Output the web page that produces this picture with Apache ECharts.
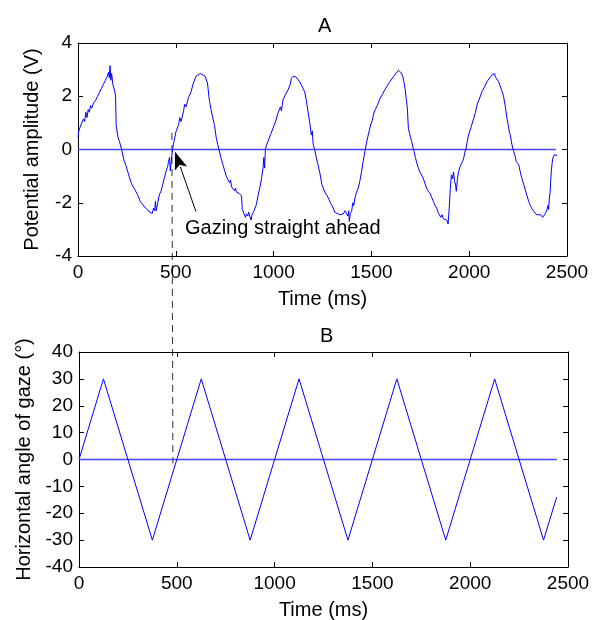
<!DOCTYPE html>
<html>
<head>
<meta charset="utf-8">
<script src="https://cdn.jsdelivr.net/npm/echarts@6/dist/echarts.min.js"></script>
<style>
html,body{margin:0;padding:0;background:#fff;}
#main{width:597px;height:620px;}
</style>
</head>
<body>
<div id="main"></div>
<script>
// ---- Panel A: potential amplitude (V) vs time (ms)
var timeA = [0,4,10,16,22,28,34,40,46,52,58,64,70,80,90,100,110,120,130,140,150,156,160,164,168,172,178,184,188,192,195,205,212,223,235,245,255,265,275,290,305,318,331,345,356,365,373,380,386,392,396,400,408,416,425,433,442,450,458,463,468,472,476,484,492,501,515,520,527,540,545,552,565,578,590,603,613,625,639,650,656,662,665,669,673,680,690,698,707,714,721,730,741,750,758,767,775,780,785,792,800,805,810,818,824,830,836,840,850,856,861,868,872,878,885,890,895,900,905,912,920,929,938,946,950,954,958,963,971,984,997,1010,1022,1035,1040,1048,1060,1074,1085,1091,1100,1108,1115,1125,1133,1142,1150,1159,1167,1176,1185,1193,1198,1202,1210,1218,1227,1237,1247,1254,1262,1270,1280,1290,1298,1305,1312,1318,1325,1331,1340,1348,1356,1365,1374,1380,1384,1387,1392,1399,1405,1410,1416,1424,1433,1442,1450,1458,1467,1475,1484,1497,1505,1510,1520,1530,1544,1555,1565,1578,1590,1600,1612,1620,1625,1630,1638,1645,1650,1655,1660,1666,1672,1678,1684,1689,1695,1700,1706,1712,1718,1725,1732,1740,1748,1755,1765,1775,1782,1791,1800,1808,1817,1825,1834,1840,1848,1855,1861,1868,1874,1878,1885,1892,1895,1898,1903,1909,1915,1920,1925,1930,1934,1940,1946,1953,1960,1966,1972,1978,1984,1990,1997,2010,2023,2032,2040,2052,2065,2078,2091,2100,2108,2117,2125,2130,2133,2140,2150,2160,2170,2176,2185,2193,2200,2205,2210,2218,2227,2235,2240,2245,2253,2260,2268,2279,2290,2304,2315,2330,2340,2345,2355,2365,2375,2381,2390,2398,2403,2406,2410,2414,2418,2420,2424,2428,2435,2440,2445,2449];
var ampA = [0.45,0.7,0.65,0.95,0.9,1.15,1.05,1.4,1.2,1.5,1.4,1.65,1.55,1.75,1.85,2.0,2.15,2.3,2.45,2.6,2.75,2.9,2.7,3.15,2.6,2.85,2.45,2.5,2.2,2.0,0.9,0.45,0.3,0,-0.4,-0.6,-0.85,-1.1,-1.3,-1.5,-1.7,-1.95,-2.07,-2.2,-2.26,-2.35,-2.32,-2.4,-2.2,-2.3,-1.95,-2.3,-2.0,-1.7,-1.55,-1.32,-1.05,-0.82,-0.65,-0.45,-0.3,-0.8,-0.5,0.05,0.35,0.67,0.95,1.2,1.05,1.45,1.7,1.6,1.95,2.17,2.5,2.75,2.77,2.85,2.8,2.75,2.61,2.5,2.3,2.0,1.8,1.5,1.17,0.9,0.43,0.2,0,-0.3,-0.57,-0.8,-1.0,-1.07,-1.25,-1.15,-1.4,-1.38,-1.55,-1.45,-1.6,-1.57,-1.65,-1.7,-1.75,-2.25,-2.3,-2.55,-2.42,-2.5,-2.35,-2.5,-2.65,-2.45,-2.45,-2.3,-2.35,-2.07,-1.75,-1.45,-1.1,-0.7,-0.3,-0.7,0,0.15,0.3,0.55,0.8,1.05,1.36,1.6,1.45,1.86,2.05,2.24,2.45,2.67,2.75,2.82,2.72,2.67,2.55,2.42,2.3,2.17,1.85,1.42,1.0,0.55,0.7,0.2,0,-0.3,-0.57,-0.9,-1.32,-1.45,-1.6,-1.7,-1.82,-2.0,-2.1,-2.2,-2.35,-2.3,-2.4,-2.45,-2.45,-2.42,-2.42,-2.3,-2.26,-2.5,-2.3,-2.7,-2.4,-2.32,-2.0,-2.1,-1.82,-1.6,-1.45,-1.15,-0.82,-0.45,-0.07,0.25,0.55,0.95,1.1,1.3,1.5,1.65,1.92,2.05,2.2,2.36,2.5,2.55,2.73,2.8,2.85,2.9,2.98,3.0,2.9,2.92,2.75,2.55,2.3,1.9,1.55,0.8,0.6,0.45,0.3,0.1,-0.07,-0.3,-0.5,-0.7,-0.85,-0.9,-1.07,-1.3,-1.45,-1.57,-1.65,-1.8,-1.95,-2.1,-2.2,-2.35,-2.4,-2.55,-2.45,-2.6,-2.55,-2.57,-2.65,-2.8,-2.5,-2.2,-1.5,-0.95,-1.1,-0.85,-1.2,-1.3,-1.57,-1.1,-0.82,-0.65,-0.7,-0.45,-0.32,-0.1,0.05,0.3,0.55,0.85,1.17,1.4,1.67,1.9,2.17,2.35,2.55,2.6,2.72,2.8,2.75,2.85,2.73,2.7,2.55,2.35,2.15,1.98,1.6,1.17,0.9,0.65,0.55,0.2,-0.07,-0.25,-0.45,-0.4,-0.57,-0.8,-1.05,-1.32,-1.6,-1.95,-2.15,-2.32,-2.35,-2.45,-2.5,-2.45,-2.55,-2.5,-2.4,-2.26,-2.1,-2.25,-1.82,-1.6,-1.0,-0.82,-0.5,-0.32,-0.2,-0.17,-0.26,-0.22];

// ---- Panel B: horizontal angle of gaze (deg) vs time (ms)
var timeB = [0,125,375,625,875,1125,1375,1625,1875,2125,2375,2442];
var angleB = [0,30,-30,30,-30,30,-30,30,-30,30,-30,-14];

// zero reference lines (start, end time)
var zeroT = [0, 2443];
var zeroV = [0, 0];

// axis ticks
var xTicks = {min: 0, max: 2500, interval: 500};
var yTicksA = {min: -4, max: 4, interval: 2};
var yTicksB = {min: -40, max: 40, interval: 10};

// annotation (data coordinates)
var annotText = 'Gazing straight ahead';
var arrowTip = [496, -0.08];
var arrowTail = [603, -2.33];
var textPos = [547, -2.98];
var markerTime = 480;
var markerTopV = 0.62;     // in panel A units
var markerBottomV = -1.5;  // in panel B units

function pairs(xs, ys){ return xs.map(function(x,i){ return [x, ys[i]]; }); }

var FONT = '"Liberation Sans", Arial, sans-serif';
var BLUE = '#0000ff';
var ZERO_BLUE = '#4545ff';
function plain(v){ return String(v); }

function xAx(grid, pos, name){
  var a = {
    gridIndex: grid, type: 'value', position: pos,
    min: xTicks.min, max: xTicks.max, interval: xTicks.interval,
    axisLine: {show: true, onZero: false, lineStyle: {color: '#000', width: 1}},
    axisTick: {show: true, inside: true, length: 5},
    axisLabel: {show: pos === 'bottom', color: '#000', fontSize: 19, fontFamily: FONT, margin: 7, formatter: plain},
    splitLine: {show: false}
  };
  if (name) {
    a.name = name; a.nameLocation = 'middle'; a.nameGap = 33;
    a.nameTextStyle = {color: '#000', fontSize: 20, fontFamily: FONT};
  }
  return a;
}
function yAx(grid, pos, t, name, gap){
  var a = {
    gridIndex: grid, type: 'value', position: pos,
    min: t.min, max: t.max, interval: t.interval,
    axisLine: {show: true, onZero: false, lineStyle: {color: '#000', width: 1}},
    axisTick: {show: true, inside: true, length: 5},
    axisLabel: {show: pos === 'left', color: '#000', fontSize: 19, fontFamily: FONT, margin: 6, formatter: plain},
    splitLine: {show: false}
  };
  if (name) {
    a.name = name; a.nameLocation = 'middle'; a.nameGap = gap;
    a.nameTextStyle = {color: '#000', fontSize: 20, fontFamily: FONT};
  }
  return a;
}

var chart = echarts.init(document.getElementById('main'));
chart.setOption({
  animation: false,
  backgroundColor: '#fff',
  title: [
    {text: 'A', left: 313, top: 11, textStyle: {color: '#000', fontSize: 20, fontWeight: 'normal', fontFamily: FONT}},
    {text: 'B', left: 315, top: 321, textStyle: {color: '#000', fontSize: 20, fontWeight: 'normal', fontFamily: FONT}}
  ],
  grid: [
    {left: 78, top: 43, width: 489, height: 213, outerBoundsMode: 'none'},
    {left: 79, top: 352, width: 489, height: 215, outerBoundsMode: 'none'}
  ],
  xAxis: [xAx(0, 'bottom', 'Time (ms)'), xAx(0, 'top'), xAx(1, 'bottom', 'Time (ms)'), xAx(1, 'top')],
  yAxis: [yAx(0, 'left', yTicksA, 'Potential amplitude (V)', 36), yAx(0, 'right', yTicksA),
          yAx(1, 'left', yTicksB, 'Horizontal angle of gaze (°)', 45), yAx(1, 'right', yTicksB)],
  series: [
    {type: 'line', xAxisIndex: 0, yAxisIndex: 0, data: pairs(zeroT, zeroV), symbol: 'none',
     lineStyle: {color: ZERO_BLUE, width: 1.6}},
    {type: 'line', xAxisIndex: 0, yAxisIndex: 0, data: pairs(timeA, ampA), symbol: 'none',
     lineStyle: {color: BLUE, width: 1}},
    {type: 'line', xAxisIndex: 2, yAxisIndex: 2, data: pairs(zeroT, zeroV), symbol: 'none',
     lineStyle: {color: ZERO_BLUE, width: 1.6}},
    {type: 'line', xAxisIndex: 2, yAxisIndex: 2, data: pairs(timeB, angleB), symbol: 'none',
     lineStyle: {color: BLUE, width: 1}}
  ]
});

// annotations positioned through the axes' own scales
var tip = chart.convertToPixel({gridIndex: 0}, arrowTip);
var tail = chart.convertToPixel({gridIndex: 0}, arrowTail);
var tpos = chart.convertToPixel({gridIndex: 0}, textPos);
var mTop = chart.convertToPixel({gridIndex: 0}, [markerTime, markerTopV]);
var mBot = chart.convertToPixel({gridIndex: 1}, [markerTime, markerBottomV]);

var dx = tail[0] - tip[0], dy = tail[1] - tip[1];
var L = Math.sqrt(dx*dx + dy*dy); var ux = dx / L, uy = dy / L;
var headLen = 18, headHalf = 6.5;
var bx = tip[0] + ux * headLen, by = tip[1] + uy * headLen;
var px = -uy, py = ux;

chart.setOption({
  graphic: [
    {type: 'line', shape: {x1: mTop[0], y1: mTop[1], x2: mBot[0], y2: mBot[1]},
     style: {stroke: '#333', lineWidth: 1, lineDash: [7, 5]}, silent: true},
    {type: 'line', shape: {x1: bx - ux*2, y1: by - uy*2, x2: tail[0], y2: tail[1]},
     style: {stroke: '#000', lineWidth: 1}, silent: true},
    {type: 'polygon', shape: {points: [[tip[0], tip[1]], [bx + px*headHalf, by + py*headHalf], [bx - ux*4, by - uy*4], [bx - px*headHalf, by - py*headHalf]]},
     style: {fill: '#000'}, silent: true},
    {type: 'text', x: tpos[0], y: tpos[1],
     style: {text: annotText, fill: '#000', fontSize: 20, fontFamily: FONT, align: 'left', verticalAlign: 'middle'}, silent: true}
  ]
});
</script>
</body>
</html>
